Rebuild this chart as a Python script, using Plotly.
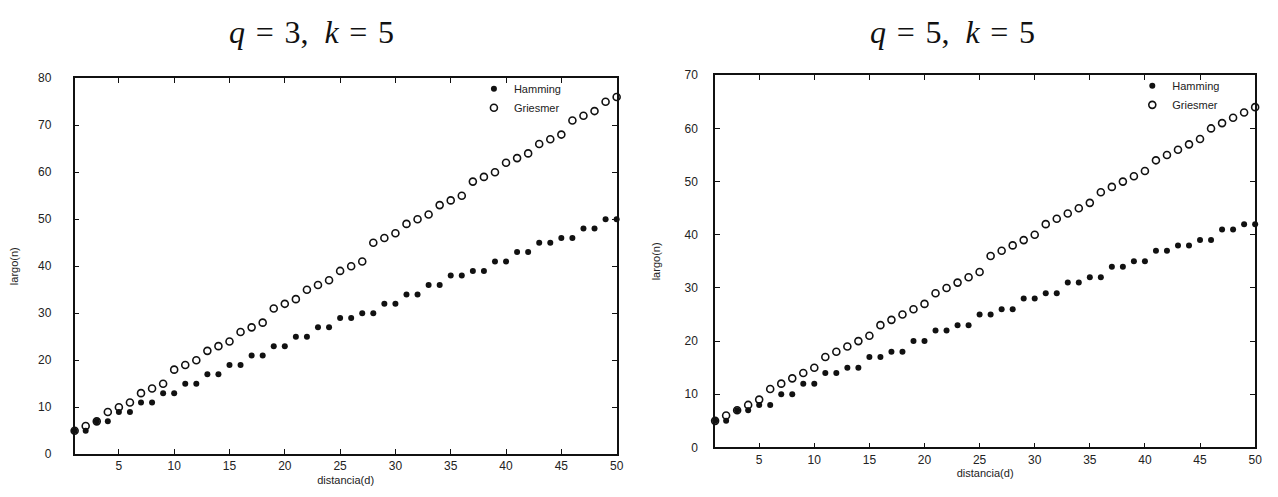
import plotly.graph_objects as go

# ---- data ----
d_values = list(range(1, 51))

hamming_q3 = [5, 5, 7, 7, 9, 9, 11, 11, 13, 13, 15, 15, 17, 17, 19, 19, 21, 21, 23, 23,
              25, 25, 27, 27, 29, 29, 30, 30, 32, 32, 34, 34, 36, 36, 38, 38, 39, 39, 41, 41,
              43, 43, 45, 45, 46, 46, 48, 48, 50, 50]
griesmer_q3 = [5, 6, 7, 9, 10, 11, 13, 14, 15, 18, 19, 20, 22, 23, 24, 26, 27, 28, 31, 32,
               33, 35, 36, 37, 39, 40, 41, 45, 46, 47, 49, 50, 51, 53, 54, 55, 58, 59, 60, 62,
               63, 64, 66, 67, 68, 71, 72, 73, 75, 76]

hamming_q5 = [5, 5, 7, 7, 8, 8, 10, 10, 12, 12, 14, 14, 15, 15, 17, 17, 18, 18, 20, 20,
              22, 22, 23, 23, 25, 25, 26, 26, 28, 28, 29, 29, 31, 31, 32, 32, 34, 34, 35, 35,
              37, 37, 38, 38, 39, 39, 41, 41, 42, 42]
griesmer_q5 = [5, 6, 7, 8, 9, 11, 12, 13, 14, 15, 17, 18, 19, 20, 21, 23, 24, 25, 26, 27,
               29, 30, 31, 32, 33, 36, 37, 38, 39, 40, 42, 43, 44, 45, 46, 48, 49, 50, 51, 52,
               54, 55, 56, 57, 58, 60, 61, 62, 63, 64]

titles = ["<i>q</i> \u200a=\u200a 3,\u2002<i>k</i> \u200a=\u200a 5",
          "<i>q</i> \u200a=\u200a 5,\u2002<i>k</i> \u200a=\u200a 5"]
x_ticks = [5, 10, 15, 20, 25, 30, 35, 40, 45, 50]
y_ticks_left = [0, 10, 20, 30, 40, 50, 60, 70, 80]
y_ticks_right = [0, 10, 20, 30, 40, 50, 60, 70]
x_title = "distancia(d)"
y_title = "largo(n)"

W, H = 1278, 497

fig = go.Figure()

def add_pair(ham, gri, xa, ya, legend):
    fig.add_trace(go.Scatter(
        x=d_values, y=ham, mode="markers", name="Hamming",
        marker=dict(symbol="circle", size=6, color="#111111"),
        xaxis=xa, yaxis=ya, legend=legend, cliponaxis=False))
    fig.add_trace(go.Scatter(
        x=d_values, y=gri, mode="markers", name="Griesmer",
        marker=dict(symbol="circle-open", size=7, color="#111111",
                    line=dict(width=1.6, color="#111111")),
        xaxis=xa, yaxis=ya, legend=legend, cliponaxis=False))

add_pair(hamming_q3, griesmer_q3, "x", "y", "legend")
add_pair(hamming_q5, griesmer_q5, "x2", "y2", "legend2")

def px_x(p):
    return p / W

def px_y(p):
    return 1 - p / H

axis_common = dict(
    showline=True, linecolor="#111111", linewidth=1.6, mirror="ticks",
    ticks="inside", ticklen=5, tickwidth=1, tickcolor="#111111",
    showgrid=False, zeroline=False,
    tickfont=dict(family="Liberation Sans, Arial, sans-serif", size=12, color="#222222"),
)

left_dom_x = [px_x(67), px_x(612)]
left_dom_y = [px_y(452), px_y(65)]
right_dom_x = [px_x(711), px_x(1254)]
right_dom_y = [px_y(445), px_y(62)]

title_font = dict(family="Liberation Sans, Arial, sans-serif", size=11, color="#222222")
legend_font = dict(family="Liberation Sans, Arial, sans-serif", size=11, color="#222222")

fig.update_layout(
    width=W, height=H,
    margin=dict(l=0, r=0, t=0, b=0),
    paper_bgcolor="white", plot_bgcolor="white",
    xaxis=dict(domain=left_dom_x, anchor="y", range=[1, 50], tickvals=x_ticks,
               title=dict(text=x_title, font=title_font, standoff=4), **axis_common),
    yaxis=dict(domain=left_dom_y, anchor="x", range=[0, 80], tickvals=y_ticks_left,
               title=dict(text=y_title, font=title_font, standoff=19), ticklabelstandoff=19,
               **axis_common),
    xaxis2=dict(domain=right_dom_x, anchor="y2", range=[1, 50], tickvals=x_ticks,
                title=dict(text=x_title, font=title_font, standoff=4), **axis_common),
    yaxis2=dict(domain=right_dom_y, anchor="x2", range=[0, 70], tickvals=y_ticks_right,
                title=dict(text=y_title, font=title_font, standoff=22), ticklabelstandoff=13,
                **axis_common),
    legend=dict(x=px_x(562), xanchor="right", y=px_y(61), yanchor="top",
                bgcolor="rgba(0,0,0,0)", tracegroupgap=0, font=legend_font),
    legend2=dict(x=px_x(1224), xanchor="right", y=px_y(58), yanchor="top",
                 bgcolor="rgba(0,0,0,0)", tracegroupgap=0, font=legend_font),
    annotations=[
        dict(text=titles[0], x=px_x(305), y=px_y(18), xref="paper", yref="paper",
             showarrow=False, xanchor="center", yanchor="middle",
             font=dict(family="Liberation Serif, Times New Roman, serif", size=32, color="#111111")),
        dict(text=titles[1], x=px_x(950), y=px_y(18), xref="paper", yref="paper",
             showarrow=False, xanchor="center", yanchor="middle",
             font=dict(family="Liberation Serif, Times New Roman, serif", size=32, color="#111111")),
    ],
)

fig.write_html("out.html")
